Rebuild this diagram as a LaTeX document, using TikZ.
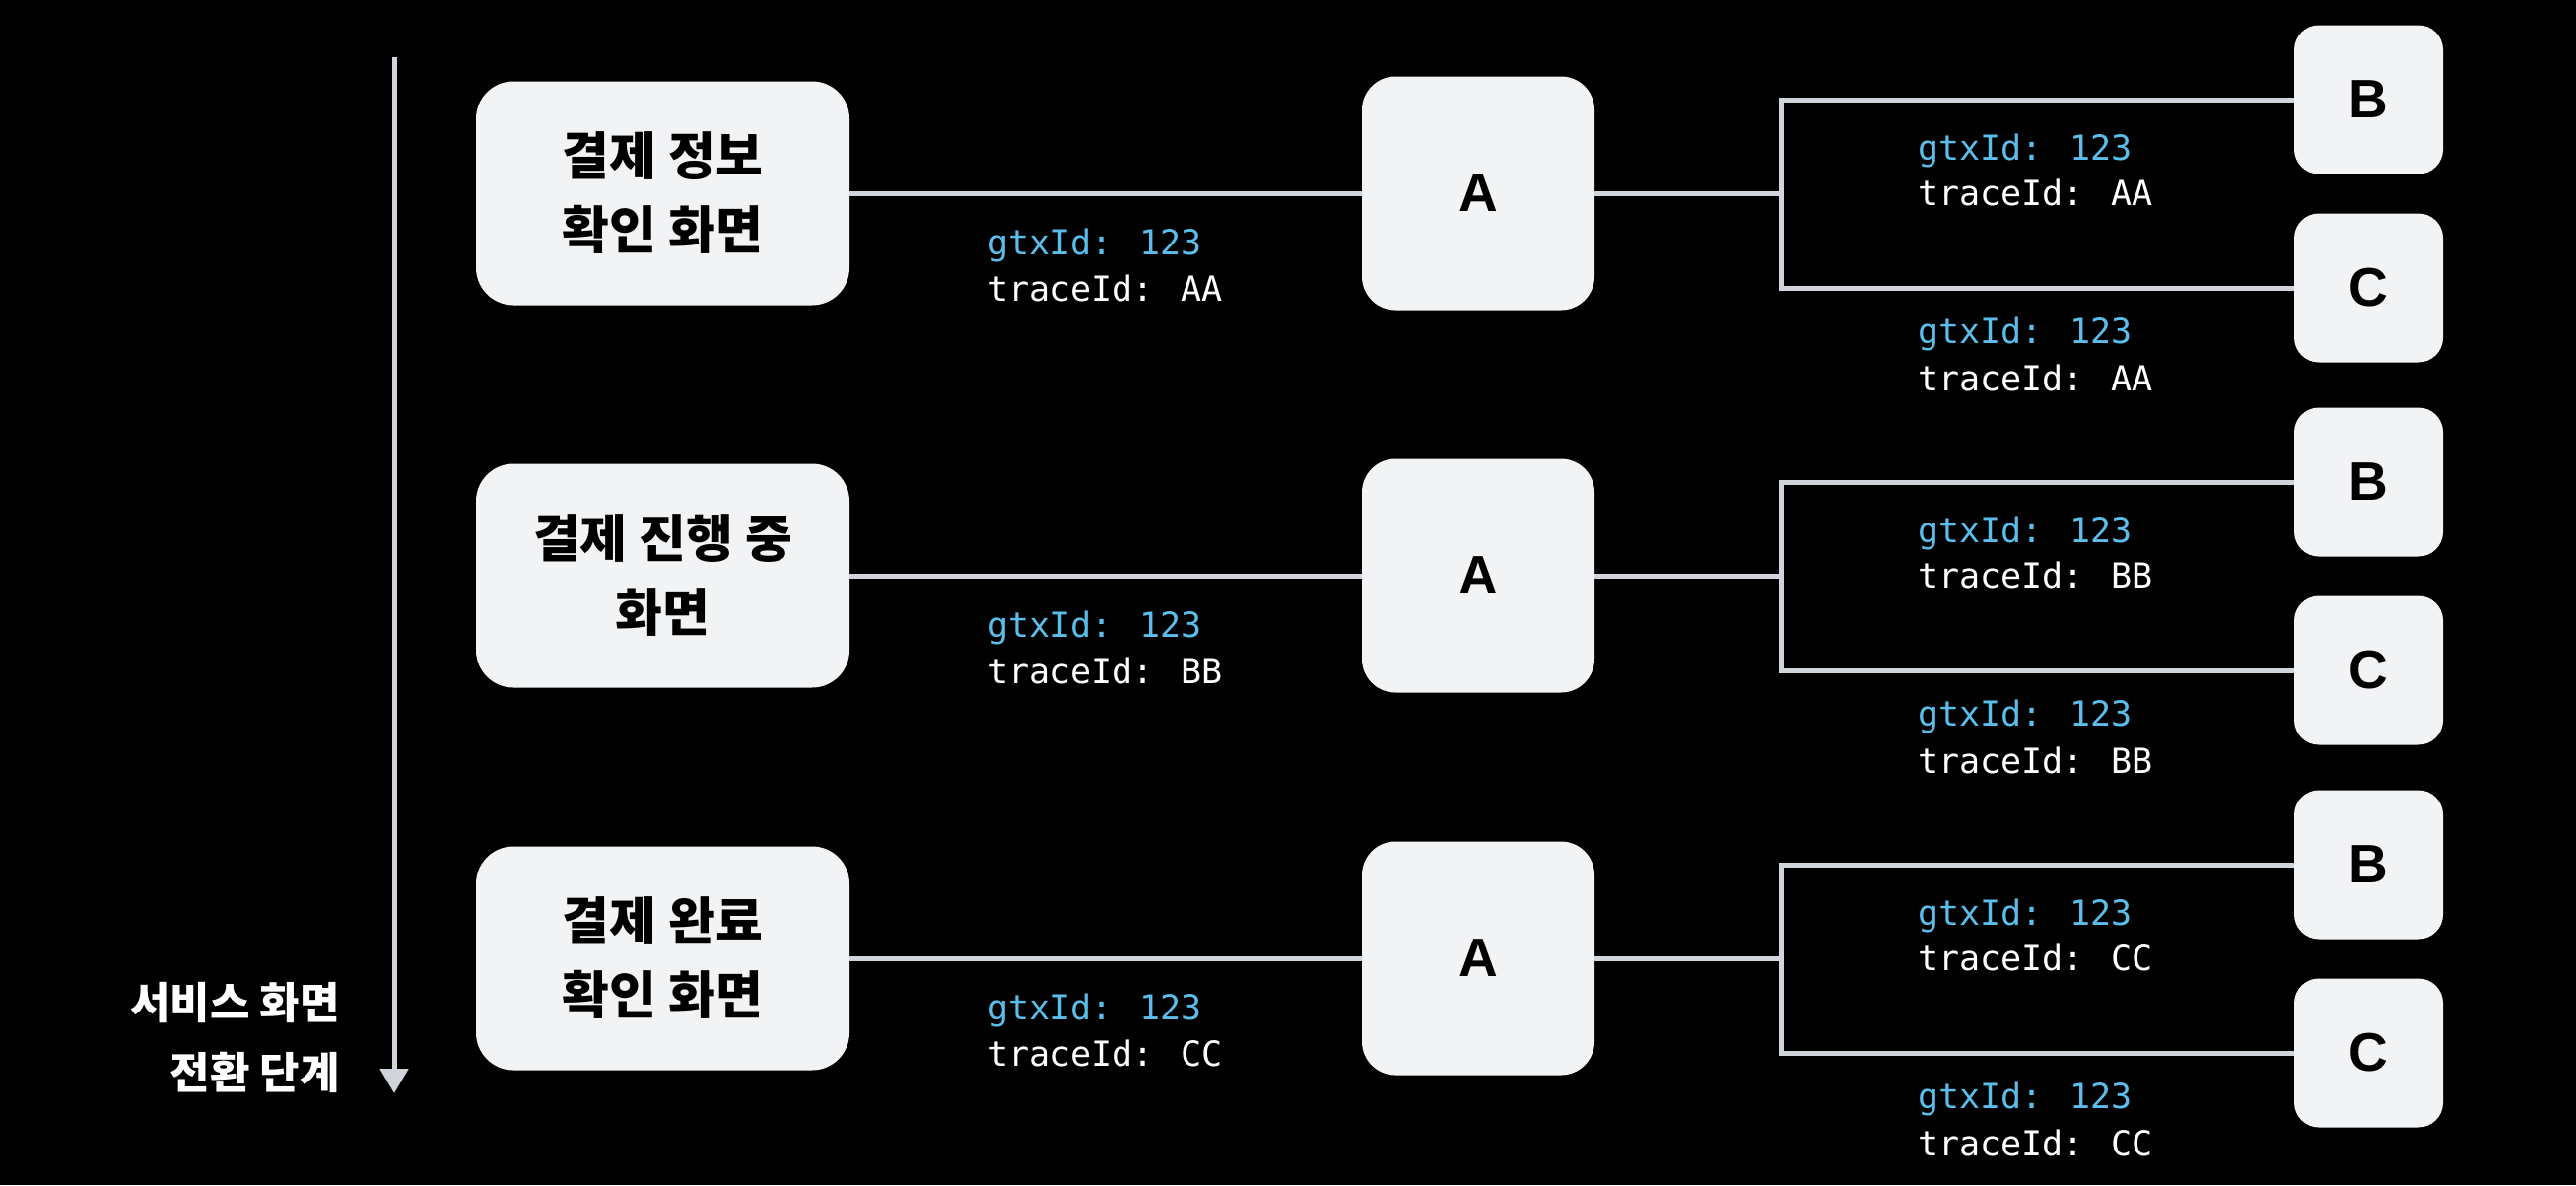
\documentclass[tikz,border=0pt]{standalone}
\usepackage{fontspec}
\usetikzlibrary{arrows.meta}
\newfontfamily\krfont{Noto Sans CJK KR}
\newfontfamily\idmono{DejaVu Sans Mono}
\newfontfamily\latinfont{Liberation Sans}
\definecolor{boxfill}{HTML}{F2F3F5}
\definecolor{linegray}{HTML}{D1D5DB}
\definecolor{idblue}{HTML}{5BBDEA}
\begin{document}
\begin{tikzpicture}[x=1pt,y=-1pt,
  screen/.style={fill=boxfill, rounded corners=38pt, minimum width=379pt, minimum height=227pt, inner sep=0pt, align=center, text=black, font=\krfont\bfseries\fontsize{52}{75}\selectfont},
  svcA/.style={fill=boxfill, rounded corners=34pt, minimum width=236pt, minimum height=237pt, inner sep=0pt, text=black, font=\latinfont\bfseries\fontsize{55}{60}\selectfont},
  svcBC/.style={fill=boxfill, rounded corners=25pt, minimum width=151pt, minimum height=151pt, inner sep=0pt, text=black, font=\latinfont\bfseries\fontsize{55}{60}\selectfont},
  conn/.style={draw=linegray, line width=5pt},
  gtx/.style={anchor=base west, inner sep=0pt, text=idblue, font=\idmono\fontsize{35}{40}\selectfont},
  trc/.style={anchor=base west, inner sep=0pt, text=white, font=\idmono\fontsize{35}{40}\selectfont},
  steplabel/.style={anchor=east, align=right, inner sep=0pt, text=white, font=\krfont\bfseries\fontsize{44}{71}\selectfont}
]
\fill[black] (0,0) rectangle (2614,1202);
\useasboundingbox (0,0) rectangle (2614,1202);

% time arrow
\coordinate (atop) at (400,58);
\coordinate (abot) at (400,1109);
\draw[draw=linegray, line width=5pt, -{Triangle[width=28pt,length=25pt]}] (atop) -- (abot);
\node[steplabel] (steps) at (345,1052) {서비스 화면\\전환 단계};

\foreach \r/\y/\la/\lb/\tid in {1/196/결제 정보/확인 화면/AA, 2/584/결제 진행 중/화면/BB, 3/972/결제 완료/확인 화면/CC}{
  \node[screen] (s\r) at (672.5,\y) {\la\\\lb};
  \node[svcA] (a\r) at (1500,\y) {A};
  \node[svcBC] (b\r) at (2403.5,\y-95) {B};
  \node[svcBC] (c\r) at (2403.5,\y+96) {C};
  \coordinate (br\r) at (1807,\y);
  \draw[conn] (s\r.east) -- (a\r.west);
  \draw[conn] (a\r.east) -- (br\r);
  \draw[conn, line join=miter] (b\r.west) -| (br\r) |- (c\r.west);
  \node[gtx] (m\r g) at (1002,\y+62) {gtxId: 123};
  \node[trc] (m\r t) at (1002,\y+109) {traceId: \tid};
  \node[gtx] (rb\r g) at (1946,\y-34) {gtxId: 123};
  \node[trc] (rb\r t) at (1946,\y+12) {traceId: \tid};
  \node[gtx] (rc\r g) at (1946,\y+152) {gtxId: 123};
  \node[trc] (rc\r t) at (1946,\y+200) {traceId: \tid};
}
\end{tikzpicture}
\end{document}
